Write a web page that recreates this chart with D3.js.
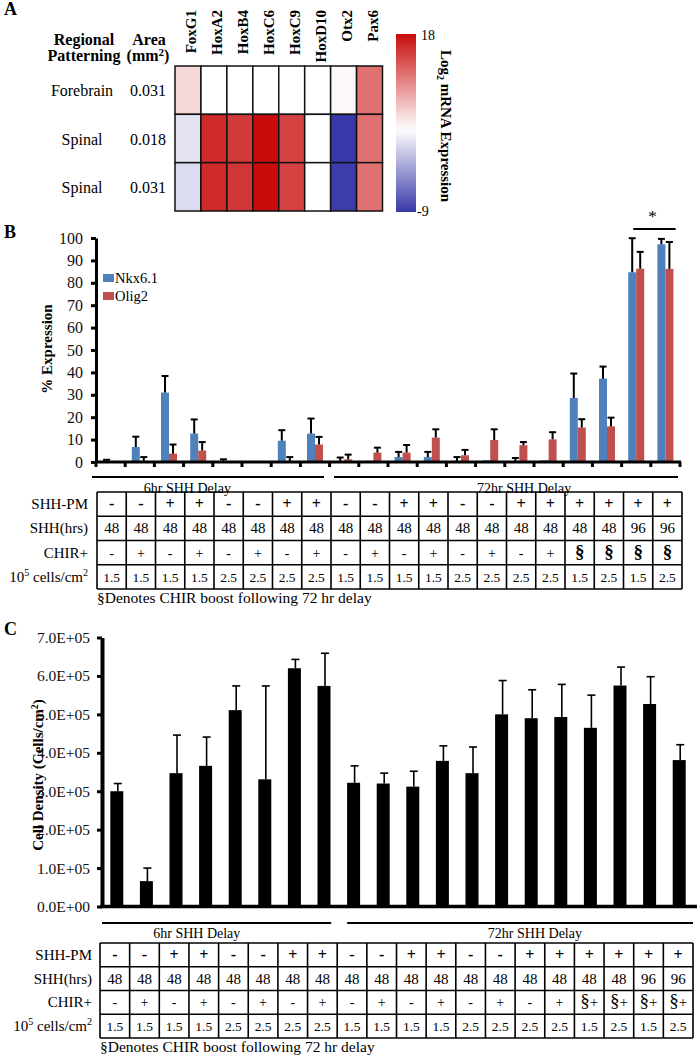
<!DOCTYPE html>
<meta charset="utf-8">
<style>
body { margin: 0; background: #fff; }
svg { font-family: "Liberation Serif", "Times New Roman", serif; }
.panel { font-weight: bold; font-size: 18px; }
</style>
<svg id="fig" width="698" height="1058"></svg>
<script src="https://cdn.jsdelivr.net/npm/d3@7"></script>
<script>
// ---- data ----
var genes = ["FoxG1", "HoxA2", "HoxB4", "HoxC6", "HoxC9", "HoxD10", "Otx2", "Pax6"];
var regionNames = ["Forebrain", "Spinal", "Spinal"];
var regionAreas = ["0.031", "0.018", "0.031"];
var log2Expr = [
  [5.8, 3.5, 3.5, 3.5, 3.5, 3.5, 3.9, 12.0],
  [1.8, 16.2, 15.3, 18.0, 14.8, 3.5, -9.0, 12.0],
  [1.3, 16.2, 15.5, 18.0, 14.8, 3.5, -8.7, 12.0]
];
var colorbarTicks = [18, -9];

// panel B: % expression (mean, error)
var nkx     = [0.6, 6.7, 31.0, 12.7, 0.3, 0, 9.5, 12.7, 0.5, 0.5, 2.2, 2.2, 0.5, 0.8, 0.3, 0.8, 28.6, 37.2, 84.7, 97.2];
var nkxSem  = [0.4, 4.6, 7.4, 6.3, 0.9, 0, 4.7, 6.7, 1.5, 0, 2.3, 2.3, 1.7, 0, 1.5, 0, 10.9, 5.4, 15.2, 2.4];
var olig    = [0, 0.5, 3.7, 5.1, 0, 0, 0.3, 7.8, 1.2, 4.2, 4.2, 10.9, 3.0, 9.8, 7.5, 10.1, 15.4, 15.9, 86.3, 86.2];
var oligSem = [0, 1.7, 4.1, 3.8, 0, 0, 1.9, 3.4, 2.1, 2.2, 3.4, 3.7, 2.4, 4.8, 1.4, 3.2, 3.7, 3.9, 7.5, 12.0];
var yTicksB = [0, 10, 20, 30, 40, 50, 60, 70, 80, 90, 100];

// panel C: cell density (cells/cm2)
var density    = [3.0e5, 0.66e5, 3.47e5, 3.66e5, 5.11e5, 3.31e5, 6.2e5, 5.74e5, 3.22e5, 3.2e5,
                  3.12e5, 3.79e5, 3.47e5, 5.0e5, 4.9e5, 4.93e5, 4.65e5, 5.75e5, 5.27e5, 3.81e5];
var densitySem = [0.2e5, 0.34e5, 0.99e5, 0.75e5, 0.63e5, 2.43e5, 0.23e5, 0.85e5, 0.44e5, 0.27e5,
                  0.4e5, 0.39e5, 0.68e5, 0.88e5, 0.74e5, 0.85e5, 0.85e5, 0.48e5, 0.71e5, 0.4e5];
var yTicksC = [0, 1e5, 2e5, 3e5, 4e5, 5e5, 6e5, 7e5];

// condition tables
var shhPm   = ["-","-","+","+","-","-","+","+","-","-","+","+","-","-","+","+","+","+","+","+"];
var shhHrs  = [48,48,48,48,48,48,48,48,48,48,48,48,48,48,48,48,48,48,96,96];
var chirB   = ["-","+","-","+","-","+","-","+","-","+","-","+","-","+","-","+","§","§","§","§"];
var chirC   = ["-","+","-","+","-","+","-","+","-","+","-","+","-","+","-","+","§+","§+","§+","§+"];
var seeding = [1.5,1.5,1.5,1.5,2.5,2.5,2.5,2.5,1.5,1.5,1.5,1.5,2.5,2.5,2.5,2.5,1.5,2.5,1.5,2.5];
var delays  = [{label: "6hr SHH Delay", first: 0, last: 7}, {label: "72hr SHH Delay", first: 8, last: 19}];
var footnote = "§Denotes CHIR boost following 72 hr delay";

var svg = d3.select("#fig");
var idx = d3.range(20);

// ================= A: heatmap =================
svg.append("text").attr("class", "panel").attr("x", 4).attr("y", 15).text("A");

var hmX = d3.scaleBand().domain(genes).range([175, 382.5]);
var hmY = d3.scaleBand().domain(d3.range(3)).range([66, 211]);
var heat = d3.scaleLinear().domain([-9, 3.5, 18]).range(["#3838a8", "#ffffff", "#c80c0c"]);

var cells = [];
log2Expr.forEach(function(row, r) {
  row.forEach(function(v, c) { cells.push({r: r, g: genes[c], v: v}); });
});
svg.append("g").selectAll("rect").data(cells).enter().append("rect")
  .attr("x", function(d) { return hmX(d.g); })
  .attr("y", function(d) { return hmY(d.r); })
  .attr("width", hmX.bandwidth())
  .attr("height", hmY.bandwidth())
  .attr("fill", function(d) { return heat(d.v); })
  .attr("stroke", "#111").attr("stroke-width", 1.5);

svg.append("g").selectAll("text").data(genes).enter().append("text")
  .attr("transform", function(d) { return "translate(" + (hmX(d) + hmX.bandwidth() / 2 + 3) + ",10) rotate(-90)"; })
  .attr("dy", "0.35em")
  .attr("text-anchor", "end")
  .style("font-weight", "bold").style("font-size", "15px")
  .text(function(d) { return d; });

// row headers
var hdr = svg.append("g").style("font-weight", "bold").style("font-size", "16px").attr("text-anchor", "middle");
hdr.append("text").attr("x", 84).attr("y", 45).text("Regional");
hdr.append("text").attr("x", 84).attr("y", 61).text("Patterning");
hdr.append("text").attr("x", 149).attr("y", 45).text("Area");
var mm = hdr.append("text").attr("x", 148).attr("y", 61);
mm.append("tspan").text("(mm");
mm.append("tspan").attr("dy", -5).style("font-size", "11px").text("2");
mm.append("tspan").attr("dy", 5).text(")");

svg.append("g").selectAll("text").data(regionNames).enter().append("text")
  .attr("x", 82).attr("y", function(d, i) { return hmY(i) + hmY.bandwidth() / 2 + 6; })
  .attr("text-anchor", "middle").style("font-size", "16px").text(function(d) { return d; });
svg.append("g").selectAll("text").data(regionAreas).enter().append("text")
  .attr("x", 148).attr("y", function(d, i) { return hmY(i) + hmY.bandwidth() / 2 + 6; })
  .attr("text-anchor", "middle").style("font-size", "16px").text(function(d) { return d; });

// colour bar
var cbY = d3.scaleLinear().domain([18, -9]).range([34, 212]);
var grad = svg.append("defs").append("linearGradient").attr("id", "cbar")
  .attr("x1", 0).attr("x2", 0).attr("y1", 0).attr("y2", 1);
d3.range(0, 1.0001, 0.05).forEach(function(t) {
  grad.append("stop").attr("offset", t).attr("stop-color", heat(cbY.invert(34 + t * 178)));
});
svg.append("rect").attr("x", 396).attr("y", cbY(18)).attr("width", 20)
  .attr("height", cbY(-9) - cbY(18)).attr("fill", "url(#cbar)");
svg.append("g").selectAll("text").data(colorbarTicks).enter().append("text")
  .attr("x", function(d) { return d > 0 ? 421 : 417; })
  .attr("y", function(d) { return d > 0 ? cbY(d) + 6 : cbY(d) + 4; })
  .style("font-size", "14px").text(function(d) { return d; });
var cbt = svg.append("text").attr("transform", "translate(446,126) rotate(90)")
  .attr("text-anchor", "middle").attr("dy", "0.35em")
  .style("font-weight", "bold").style("font-size", "15px");
cbt.append("tspan").text("Log");
cbt.append("tspan").attr("dy", 4).style("font-size", "10px").text("2");
cbt.append("tspan").attr("dy", -4).text(" mRNA Expression");

// ================= helpers =================
function styleAxis(g, lw, tw, fs) {
  g.attr("font-family", null).attr("font-size", null);
  g.select(".domain").attr("stroke-width", lw);
  g.selectAll(".tick line").attr("stroke-width", tw);
  g.selectAll(".tick text").style("font-size", fs + "px").attr("fill", "#111");
}

function errorBars(g, xs, vals, sems, y, cap, lw) {
  g.selectAll("g.err").data(vals).enter().append("g").attr("class", "err")
    .each(function(v, i) {
      var e = d3.select(this), x = xs(i), top = y(v + sems[i]);
      if (sems[i] <= 0) return;
      e.append("line").attr("x1", x).attr("x2", x).attr("y1", y(v)).attr("y2", top)
        .attr("stroke", "#000").attr("stroke-width", lw);
      e.append("line").attr("x1", x - cap / 2).attr("x2", x + cap / 2).attr("y1", top).attr("y2", top)
        .attr("stroke", "#000").attr("stroke-width", lw);
    });
}

function delayBrackets(xt, lineY, textY, o) {
  var g = svg.append("g");
  delays.forEach(function(d, k) {
    var x1 = xt(d.first) + o.start[k], x2 = xt(d.last) + xt.bandwidth() + o.end[k];
    g.append("line").attr("x1", x1).attr("x2", x2).attr("y1", lineY).attr("y2", lineY)
      .attr("stroke", "#000").attr("stroke-width", 2.2);
    g.append("text").attr("x", xt(o.textSlot[k]) + xt.bandwidth() / 2 + o.textShift[k]).attr("y", textY)
      .attr("text-anchor", "middle").style("font-size", "14px").text(d.label);
  });
}

function drawTable(xt, top, bottom, labelX, chir) {
  var rows = [
    {label: "SHH-PM", vals: shhPm, bold: true, fs: 16},
    {label: "SHH(hrs)", vals: shhHrs, bold: false, fs: 15},
    {label: "CHIR+", vals: chir, bold: false, fs: 14},
    {label: "seed", vals: seeding.map(function(v) { return v.toFixed(1); }), bold: false, fs: 13.5}
  ];
  var ry = d3.scaleBand().domain(d3.range(rows.length)).range([top, bottom]);
  var g = svg.append("g");
  rows.forEach(function(row, r) {
    var yc = ry(r) + ry.bandwidth() / 2;
    var lab = g.append("text").attr("x", labelX).attr("y", yc + 5).attr("text-anchor", "end").style("font-size", "15px");
    if (row.label === "seed") {
      lab.append("tspan").text("10");
      lab.append("tspan").attr("dy", -6).style("font-size", "10px").text("5");
      lab.append("tspan").attr("dy", 6).text(" cells/cm");
      lab.append("tspan").attr("dy", -6).style("font-size", "10px").text("2");
    } else {
      lab.text(row.label);
    }
    g.selectAll(null).data(row.vals).enter().append("text")
      .attr("x", function(d, i) { return xt(i) + xt.bandwidth() / 2; })
      .attr("y", yc + 5)
      .attr("text-anchor", "middle")
      .style("font-weight", row.bold ? "bold" : "normal")
      .style("font-size", row.fs + "px")
      .each(function(d) {
        var t = d3.select(this), s = String(d);
        if (s.charAt(0) === "§") {
          t.append("tspan").style("font-size", "19px").style("font-weight", s.length === 1 ? "bold" : "normal").text("§");
          if (s.length > 1) t.append("tspan").style("font-size", "15px").text(s.slice(1));
        } else {
          t.text(s);
        }
      });
  });
  // grid
  var x0 = xt.range()[0], x1 = xt.range()[1];
  d3.range(rows.length + 1).forEach(function(r) {
    var y = r < rows.length ? ry(r) : bottom;
    g.append("line").attr("x1", x0).attr("x2", x1).attr("y1", y).attr("y2", y).attr("stroke", "#000").attr("stroke-width", 1.6);
  });
  idx.concat([20]).forEach(function(i) {
    var x = i < 20 ? xt(i) : x1;
    g.append("line").attr("x1", x).attr("x2", x).attr("y1", top).attr("y2", bottom).attr("stroke", "#000").attr("stroke-width", 1.6);
  });
  g.append("text").attr("x", x0).attr("y", bottom + 13.5).style("font-size", "15.5px").text(footnote);
}

// ================= B: % expression =================
svg.append("text").attr("class", "panel").attr("x", 4).attr("y", 238).text("B");

var bx = d3.scaleBand().domain(idx).range([96, 680]);
var by = d3.scaleLinear().domain([0, 100]).range([462, 238]);
var bSub = d3.scaleBand().domain(["nkx", "olig"])
  .range([bx.bandwidth() / 2 - 8, bx.bandwidth() / 2 + 8]);
var bColor = {nkx: "#4f81bd", olig: "#c0504d"};

var bPlot = svg.append("g");
[["nkx", nkx, nkxSem], ["olig", olig, oligSem]].forEach(function(s) {
  bPlot.append("g").selectAll("rect").data(s[1]).enter().append("rect")
    .attr("x", function(d, i) { return bx(i) + bSub(s[0]); })
    .attr("y", function(d) { return by(d); })
    .attr("width", bSub.bandwidth())
    .attr("height", function(d) { return by(0) - by(d); })
    .attr("fill", bColor[s[0]]);
  errorBars(bPlot.append("g"), function(i) { return bx(i) + bSub(s[0]) + bSub.bandwidth() / 2; },
    s[1], s[2], by, 7, 2);
});

var byAxis = svg.append("g").attr("transform", "translate(96,0)")
  .call(d3.axisLeft(by).tickValues(yTicksB).tickSize(5).tickPadding(8).tickSizeOuter(0));
styleAxis(byAxis, 3, 3, 16);

// x axis with boundary ticks
svg.append("line").attr("x1", bx.range()[0] - 1).attr("x2", bx.range()[1] + 1)
  .attr("y1", by(0)).attr("y2", by(0)).attr("stroke", "#000").attr("stroke-width", 3);
svg.append("g").selectAll("line").data(idx.concat([20])).enter().append("line")
  .attr("x1", function(i) { return i < 20 ? bx(i) : bx.range()[1]; })
  .attr("x2", function(i) { return i < 20 ? bx(i) : bx.range()[1]; })
  .attr("y1", by(0)).attr("y2", by(0) + 5)
  .attr("stroke", "#000").attr("stroke-width", 3);

svg.append("text").attr("transform", "translate(47,349) rotate(-90)")
  .attr("text-anchor", "middle").attr("dy", "0.35em")
  .style("font-weight", "bold").style("font-size", "15px").text("% Expression");

// legend
var leg = svg.append("g").selectAll("g").data([["nkx", "Nkx6.1"], ["olig", "Olig2"]]).enter().append("g")
  .attr("transform", function(d, i) { return "translate(103," + (274 + i * 18) + ")"; });
leg.append("rect").attr("width", 11).attr("height", 8).attr("fill", function(d) { return bColor[d[0]]; });
leg.append("text").attr("x", 12).attr("y", 9).style("font-size", "14.5px").text(function(d) { return d[1]; });

// significance
var sx1 = bx(18) + bx.bandwidth() * 0.4, sx2 = bx(19) + bx.bandwidth() * 0.85;
svg.append("line").attr("x1", sx1).attr("x2", sx2).attr("y1", 229).attr("y2", 229)
  .attr("stroke", "#000").attr("stroke-width", 2);
svg.append("text").attr("x", (sx1 + sx2) / 2 - 2).attr("y", 222).attr("text-anchor", "middle")
  .style("font-size", "17px").text("*");

var btx = d3.scaleBand().domain(idx).range([97, 682]);
delayBrackets(btx, 477, 493, {start: [-5, 3], end: [-7, -4], textSlot: [3, 14], textShift: [-12, 3]});
drawTable(btx, 492, 589, 88, chirB);

// ================= C: cell density =================
svg.append("text").attr("class", "panel").attr("x", 4).attr("y", 635).text("C");

var cx = d3.scaleBand().domain(idx).range([102, 694]);
var cy = d3.scaleLinear().domain([0, 7e5]).range([906.5, 637.5]);
var cBarW = 13;

svg.append("g").selectAll("rect").data(density).enter().append("rect")
  .attr("x", function(d, i) { return cx(i) + (cx.bandwidth() - cBarW) / 2; })
  .attr("y", function(d) { return cy(d); })
  .attr("width", cBarW)
  .attr("height", function(d) { return cy(0) - cy(d); })
  .attr("fill", "#000");
errorBars(svg.append("g"), function(i) { return cx(i) + cx.bandwidth() / 2 + 1; }, density, densitySem, cy, 8, 1.6);

var cyAxis = svg.append("g").attr("transform", "translate(102,0)")
  .call(d3.axisLeft(cy).tickValues(yTicksC).tickSize(5).tickPadding(7).tickSizeOuter(0)
    .tickFormat(function(v) { return v === 0 ? "0.0E+00" : (v / 1e5).toFixed(1) + "E+05"; }));
styleAxis(cyAxis, 4, 3, 15.5);
svg.append("line").attr("x1", 100).attr("x2", 697).attr("y1", cy(0)).attr("y2", cy(0))
  .attr("stroke", "#000").attr("stroke-width", 3.5);

var ct = svg.append("text").attr("transform", "translate(38,775) rotate(-90)")
  .attr("text-anchor", "middle").attr("dy", "0.35em")
  .style("font-weight", "bold").style("font-size", "15px");
ct.append("tspan").text("Cell Density (Cells/cm");
ct.append("tspan").attr("dy", -5).style("font-size", "10px").text("2");
ct.append("tspan").attr("dy", 5).text(")");

var ctx = d3.scaleBand().domain(idx).range([100, 693]);
delayBrackets(ctx, 923, 938, {start: [2, 10], end: [-6, 0], textSlot: [3, 14], textShift: [-7, 5]});
drawTable(ctx, 943, 1038, 92, chirC);
</script>
